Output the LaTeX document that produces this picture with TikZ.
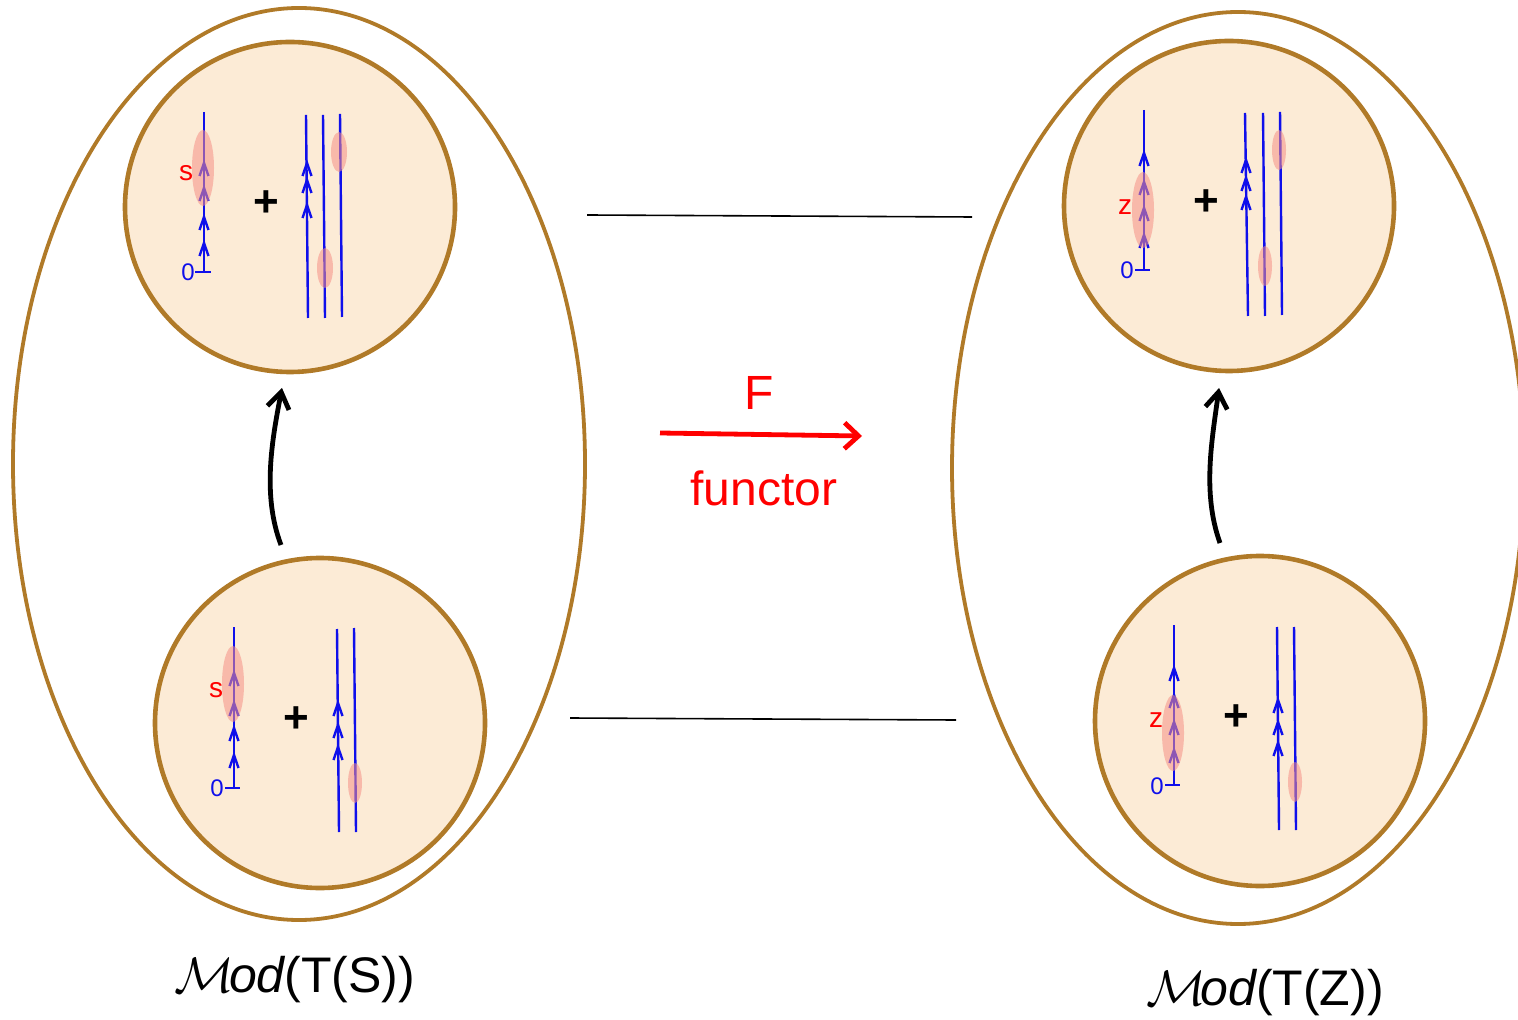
\documentclass[tikz,border=0pt]{standalone}
\usepackage{fontspec}
\setmainfont{Liberation Sans}
\usetikzlibrary{shapes.geometric,arrows.meta}
\definecolor{brownc}{RGB}{176,122,40}
\definecolor{fillc}{RGB}{252,235,214}
\definecolor{pinkc}{RGB}{245,145,135}
\definecolor{bluec}{RGB}{15,15,235}
\begin{document}
\begin{tikzpicture}[x=0.5pt,y=-0.5pt,
  outer/.style={draw=brownc, line width=1.9pt, ellipse, inner sep=0pt, minimum width=286pt, minimum height=456pt},
  inner/.style={draw=brownc, line width=2.3pt, fill=fillc, circle, inner sep=0pt, minimum size=165pt},
  bl/.style={draw=bluec, line width=1.2pt},
  pk/.style={fill=pinkc, fill opacity=0.55},
  zero/.style={text=bluec, font=\fontsize{12}{14}\selectfont, inner sep=0pt},
  lab/.style={text=red, font=\fontsize{14}{16}\selectfont, inner sep=0pt},
  plus/.style={font=\fontsize{22}{24}\selectfont\bfseries, inner sep=0pt},
  curv/.style={line width=2.4pt, -{Straight Barb[length=8pt,width=11pt]}},
  chev/.pic={\draw[bl, line join=miter] (-4.5,13) -- (0,0) -- (4.5,13);}
]
\useasboundingbox (0,0) rectangle (1518,1020);

% outer ellipses
\node[outer] (L) at (299,464) {};
\node[outer] (R) at (1238,468) {};

% inner circles
\node[inner] (LT) at (290,207) {};
\node[inner] (LB) at (320,723) {};
\node[inner] (RT) at (1229,206) {};
\node[inner] (RB) at (1260,721) {};

% ---------- left top ----------
\draw[bl] (204,112) -- (204,272);
\draw[bl] (195,272) -- (211,272);
\foreach \y in {163,188,217,243} \pic at (204,\y) {chev};
\draw[bl] (306,115) -- (308,318);
\draw[bl] (323,115) -- (325,318);
\draw[bl] (340,114) -- (342,317);
\foreach \y in {163,180,205} \pic at (307,\y) {chev};
\fill[pk] (203,168) ellipse [x radius=5.5pt, y radius=19pt];
\fill[pk] (339,152) ellipse [x radius=4pt, y radius=10pt];
\fill[pk] (325,268) ellipse [x radius=4pt, y radius=10pt];
\node[zero] (lt0) at (188,272) {0};
\node[lab] (lts) at (186,173) {s};
\node[plus] (ltp) at (266,204) {+};

% ---------- left bottom ----------
\draw[bl] (234,627) -- (234,788);
\draw[bl] (225,788) -- (240,788);
\foreach \y in {673,703,728,755} \pic at (234,\y) {chev};
\draw[bl] (337,629) -- (339,832);
\draw[bl] (354,628) -- (356,832);
\foreach \y in {703,725,747} \pic at (338,\y) {chev};
\fill[pk] (233,684) ellipse [x radius=5.5pt, y radius=19pt];
\fill[pk] (355,783) ellipse [x radius=3.5pt, y radius=10pt];
\node[zero] (lb0) at (217,788) {0};
\node[lab] (lbs) at (216,690) {s};
\node[plus] (lbp) at (296,720) {+};

% ---------- right top ----------
\draw[bl] (1144,110) -- (1144,270);
\draw[bl] (1135,270) -- (1150,270);
\foreach \y in {153,182,208,235} \pic at (1144,\y) {chev};
\draw[bl] (1245,113) -- (1248,316);
\draw[bl] (1263,113) -- (1265,316);
\draw[bl] (1280,112) -- (1282,315);
\foreach \y in {160,178,197} \pic at (1246,\y) {chev};
\fill[pk] (1143,210) ellipse [x radius=5.5pt, y radius=19pt];
\fill[pk] (1279,150) ellipse [x radius=3.5pt, y radius=10pt];
\fill[pk] (1265,266) ellipse [x radius=3.5pt, y radius=10pt];
\node[zero] (rt0) at (1127,270) {0};
\node[lab] (rtz) at (1125,207) {z};
\node[plus] (rtp) at (1206,203) {+};

% ---------- right bottom ----------
\draw[bl] (1174,625) -- (1174,785);
\draw[bl] (1165,785) -- (1180,785);
\foreach \y in {668,695,722,750} \pic at (1174,\y) {chev};
\draw[bl] (1277,627) -- (1279,830);
\draw[bl] (1294,627) -- (1296,830);
\foreach \y in {700,722,743} \pic at (1278,\y) {chev};
\fill[pk] (1173,733) ellipse [x radius=5.5pt, y radius=19pt];
\fill[pk] (1295,782) ellipse [x radius=3.5pt, y radius=10pt];
\node[zero] (rb0) at (1157,786) {0};
\node[lab] (rbz) at (1156,720) {z};
\node[plus] (rbp) at (1236,718) {+};

% ---------- curved black arrows ----------
\coordinate (ls) at (281,545);
\coordinate (le) at (282,388);
\coordinate (rs) at (1220,543);
\coordinate (re) at (1219,388);
\draw[curv] (ls) .. controls (262,495) and (272,440) .. (le);
\draw[curv] (rs) .. controls (1202,493) and (1212,440) .. (re);

% ---------- horizontal lines ----------
\coordinate (h1a) at (587,215);
\coordinate (h1b) at (972,217);
\coordinate (h2a) at (570,718);
\coordinate (h2b) at (956,720);
\draw[line width=0.8pt] (h1a) -- (h1b);
\draw[line width=0.8pt] (h2a) -- (h2b);

% ---------- functor arrow ----------
\coordinate (fa) at (660,433);
\coordinate (fb) at (862,436);
\draw[red, line width=2.4pt, -{Straight Barb[length=7pt,width=13pt]}] (fa) -- (fb);
\node[text=red, font=\fontsize{24}{28}\selectfont, inner sep=0pt] (F) at (759,393) {F};
\node[text=red, font=\fontsize{24}{28}\selectfont, inner sep=0pt] (fun) at (764,488) {functor};

% ---------- labels ----------
\node[font=\fontsize{25}{30}\selectfont, inner sep=0pt] (ml) at (295,980) {$\mathcal{M}\mkern-2mu\mathit{od}$(T(S))};
\node[font=\fontsize{25}{30}\selectfont, inner sep=0pt] (mr) at (1265,993) {$\mathcal{M}\mkern-2mu\mathit{od}$(T(Z))};
\end{tikzpicture}
\end{document}
